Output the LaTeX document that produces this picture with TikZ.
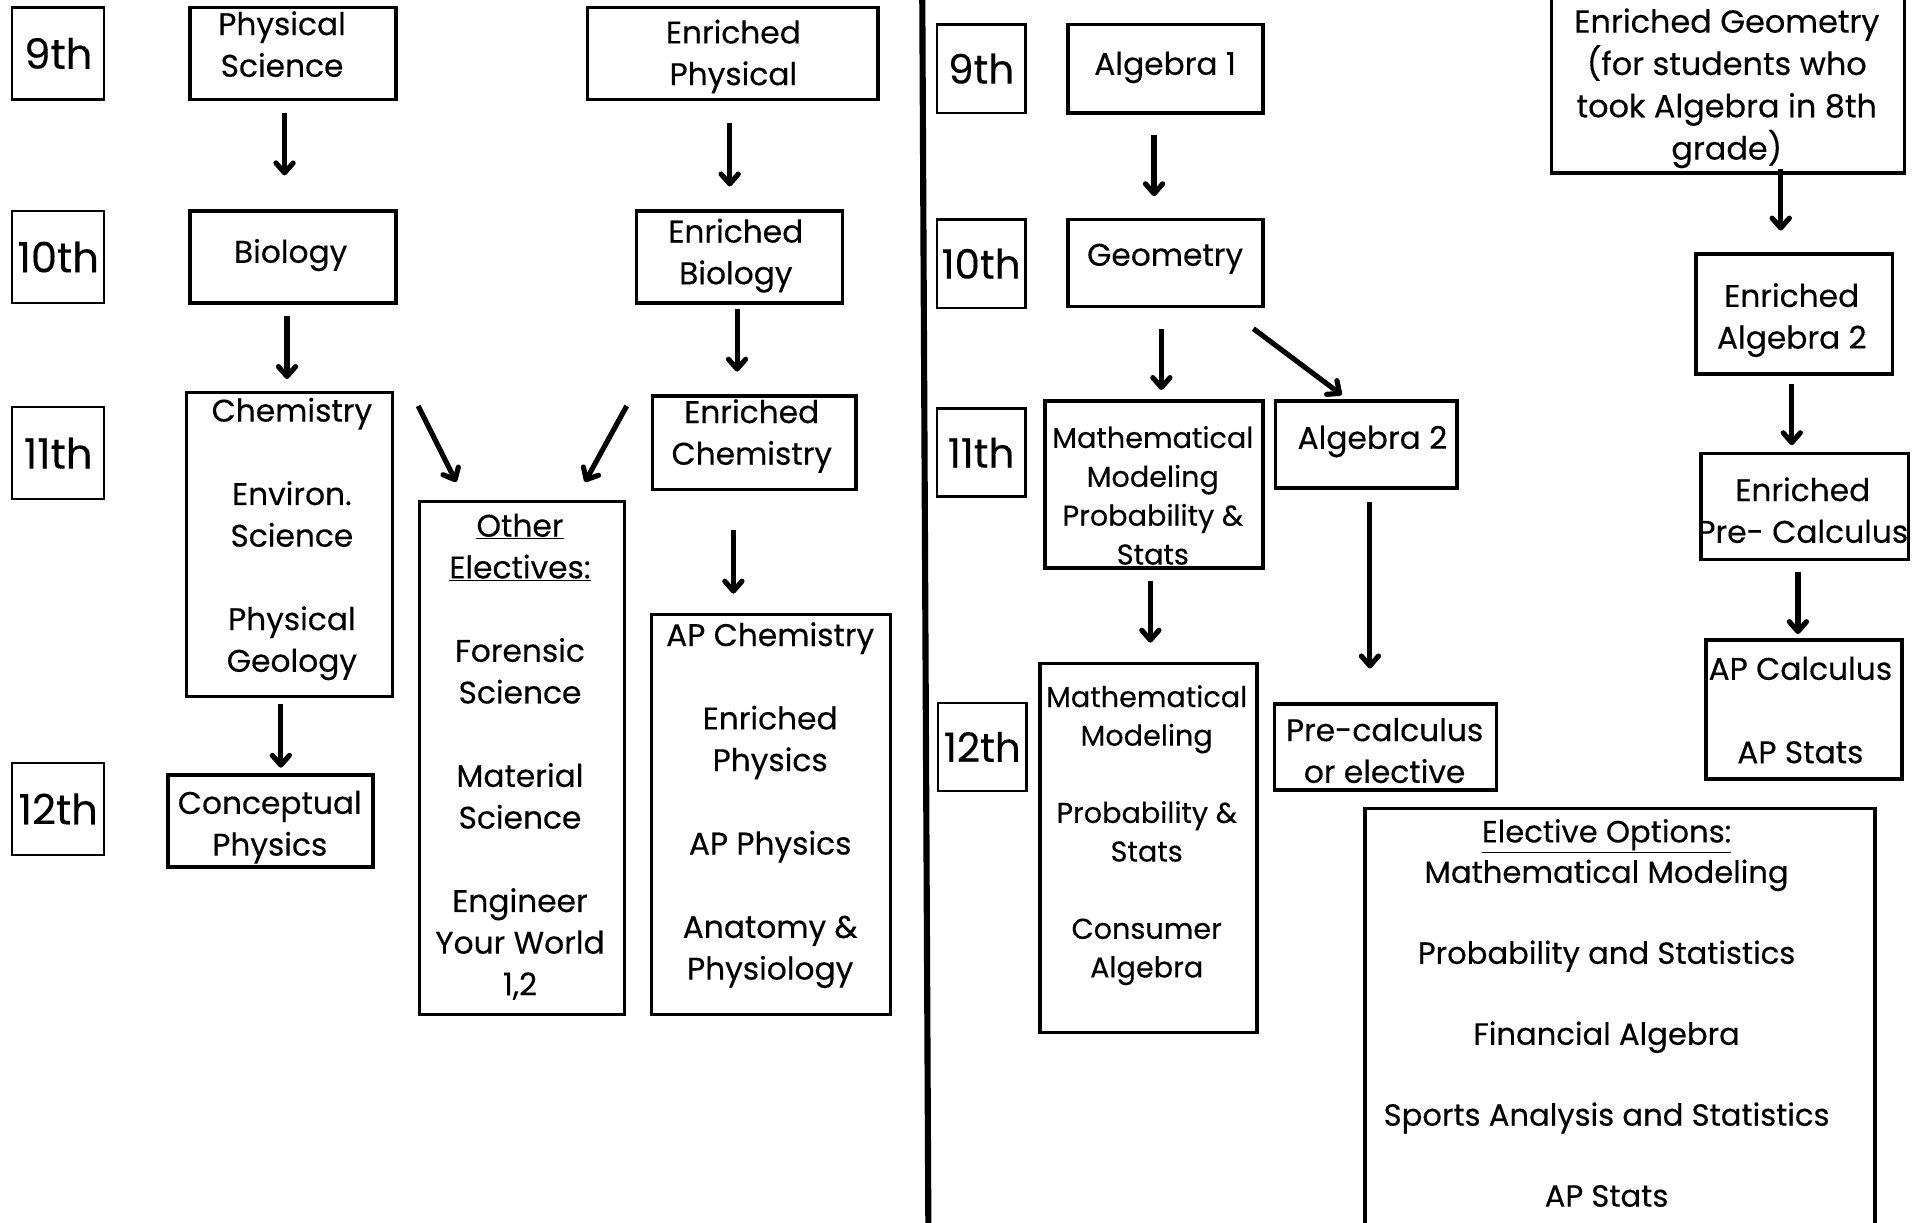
\documentclass[tikz,border=0pt]{standalone}
\usepackage{fontspec}
\setmainfont{Poppins}[FakeBold=0.3]
\usetikzlibrary{arrows.meta}
\newcommand\coursebox[5]{\node[box, minimum width=#4pt, minimum height=#5pt] (#1) at (#2,#3) {};}
\begin{document}
\begin{tikzpicture}[x=1pt,y=-1pt,
 box/.style={draw, line width=2.8pt, inner sep=0pt, outer sep=0pt},
 gbox/.style={draw, line width=2pt, minimum width=75pt, minimum height=75pt, inner sep=0pt, outer sep=0pt, font=\fontsize{34}{38}\selectfont},
 gboxr/.style={gbox, minimum width=72pt, minimum height=72pt, font=\fontsize{33}{38}\selectfont},
 txt/.style={align=center, inner sep=0pt, font=\fontsize{25.5}{34}\selectfont},
 arr/.style={line width=4.2pt, -{Straight Barb[length=8pt,width=14pt,round]}}]
\fill[white] (0,0) rectangle (1568,997);
\useasboundingbox (0,0) rectangle (1568,997);
% divider
\draw[line width=5pt] (752,-5) -- (757,1005);
% ---------- left: grade boxes
\node[gbox] (g9L) at (47.5,43.5) {9th};
\node[gbox] (g10L) at (47.5,209.5) {10th};
\node[gbox] (g11L) at (47.5,369.5) {11th};
\node[gbox] (g12L) at (47.5,659.5) {12th};
% ---------- left: course boxes
\coursebox{ps}{239}{43.5}{168}{75}
\coursebox{bio}{239}{209.5}{168}{75}
\coursebox{chem}{236}{444}{168}{248}
\coursebox{cp}{220.5}{669.5}{167}{75}
\coursebox{ep}{597.5}{43.5}{237}{75}
\coursebox{eb}{603}{209.5}{168}{75}
\coursebox{ec}{615}{361}{166}{76}
\coursebox{apc}{628.5}{664}{195}{326}
\coursebox{oe}{425.5}{618}{167}{418}
% texts
\node[txt] (tps) at (230,36) {Physical\\Science};
\node[txt] (tbio) at (237,208) {Biology};
\node[txt] (tchem) at (238,439.5) {Chemistry\\[34pt]Environ.\\Science\\[34pt]Physical\\Geology};
\node[txt] (tcp) at (220,674.5) {Conceptual\\Physics};
\node[txt] (tep) at (598,46) {Enriched\\Physical};
\node[txt] (teb) at (600,208.5) {Enriched\\Biology};
\node[txt] (tec) at (613,355.5) {Enriched\\Chemistry};
\node[txt] (tapc) at (628,656.5) {AP Chemistry\\[34pt]Enriched\\Physics\\[34pt]AP Physics\\[34pt]Anatomy \&\\Physiology};
\node[txt] (toe) at (424,617) {\underline{Other}\\\underline{Electives:}\\[34pt]Forensic\\Science\\[34pt]Material\\Science\\[34pt]Engineer\\Your World\\1,2};
% arrows left
\draw[arr] ([xshift=-7pt,yshift=-11pt]ps.south) -- ([xshift=-7pt,yshift=29pt]bio.north);
\draw[arr] ([xshift=-5pt,yshift=-11pt]bio.south) -- ([xshift=-2pt,yshift=11pt]chem.north);
\draw[arr] ([xshift=-7pt,yshift=-6pt]chem.south) -- ([xshift=8.5pt,yshift=6pt]cp.north);
\draw[arr] ([xshift=-2.5pt,yshift=-19pt]ep.south) -- ([xshift=-8pt,yshift=20pt]eb.north);
\draw[arr] ([xshift=-2pt,yshift=-5pt]eb.south) -- ([xshift=-14pt,yshift=20pt]ec.north);
\draw[arr] ([xshift=-17pt,yshift=-33pt]ec.south) -- ([xshift=-30.5pt,yshift=17pt]apc.north);
\draw[arr] ([xshift=21pt,yshift=-11pt]chem.north east) -- ([xshift=30pt,yshift=16pt]oe.north west);
\draw[arr] ([xshift=-21pt,yshift=-8pt]ec.north west) -- ([xshift=-32pt,yshift=16pt]oe.north east);
% ---------- right: grade boxes
\node[gboxr] (g9R) at (800,56) {9th};
\node[gboxr] (g10R) at (800,215) {10th};
\node[gboxr] (g11R) at (800,369) {11th};
\node[gboxr] (g12R) at (801,609) {12th};
% ---------- right: course boxes
\coursebox{aone}{950.5}{56}{159}{72}
\coursebox{geo}{950.5}{214.5}{159}{71}
\coursebox{mmA}{941}{395}{178}{136}
\coursebox{algtwo}{1114}{362.5}{148}{71}
\coursebox{mmB}{936.5}{691.5}{177}{301}
\coursebox{pre}{1129.5}{609}{181}{70}
\coursebox{eo}{1321}{834.5}{416}{351}
\coursebox{eg}{1409}{65.5}{288}{151}
\coursebox{eatwo}{1463}{256}{160}{98}
\coursebox{epc}{1471.5}{413}{169}{86}
\coursebox{apcalc}{1471}{578.5}{160}{113}
% texts
\node[txt] (taone) at (950,55) {Algebra 1};
\node[txt] (tgeo) at (950,211) {Geometry};
\node[txt, font=\fontsize{23.4}{31.7}\selectfont] (tmmA) at (940,404) {Mathematical\\Modeling\\Probability \&\\Stats};
\node[txt] (talgtwo) at (1119,360) {Algebra 2};
\node[txt, font=\fontsize{23.4}{31.5}\selectfont] (tmmB) at (935,681) {Mathematical\\Modeling\\[31.5pt]Probability \&\\Stats\\[31.5pt]Consumer\\Algebra};
\node[txt] (tpre) at (1129,612) {Pre-calculus\\or elective};
\node[txt, font=\fontsize{25}{33}\selectfont] (teo) at (1310,826) {\underline{Elective Options:}\\Mathematical Modeling\\[33pt]Probability and Statistics\\[33pt]Financial Algebra\\[33pt]Sports Analysis and Statistics\\[33pt]AP Stats};
\node[txt, font=\fontsize{26}{34.5}\selectfont] (teg) at (1408,72) {Enriched Geometry\\(for students who\\took Algebra in 8th\\grade)};
\node[txt] (teatwo) at (1461,261) {Enriched\\Algebra 2};
\node[txt] (tepc) at (1470,416) {Enriched\\Pre- Calculus};
\node[txt] (tapcalc) at (1468,579) {AP Calculus\\[34pt]AP Stats};
% arrows right
\draw[arr] ([xshift=-9.5pt,yshift=-18pt]aone.south) -- ([xshift=-9.5pt,yshift=19pt]geo.north);
\draw[arr] ([xshift=-3.5pt,yshift=-18pt]geo.south) -- ([xshift=6pt,yshift=9pt]mmA.north);
\draw[arr] ([xshift=-8pt,yshift=-18pt]geo.south east) -- ([xshift=54pt,yshift=5pt]algtwo.north west);
\draw[arr] ([xshift=-3pt,yshift=-11pt]mmA.south) -- ([xshift=1.5pt,yshift=17pt]mmB.north);
\draw[arr] ([xshift=3pt,yshift=-11pt]algtwo.south) -- ([xshift=-12.5pt,yshift=29pt]pre.north);
\draw[arr] ([xshift=43pt,yshift=3pt]eg.south) -- ([xshift=-11pt,yshift=19pt]eatwo.north);
\draw[arr] ([xshift=-2pt,yshift=-8pt]eatwo.south) -- ([xshift=-10.5pt,yshift=7pt]epc.north);
\draw[arr] ([xshift=-5.5pt,yshift=-10pt]epc.south) -- ([xshift=-5pt,yshift=5pt]apcalc.north);
\end{tikzpicture}
\end{document}
